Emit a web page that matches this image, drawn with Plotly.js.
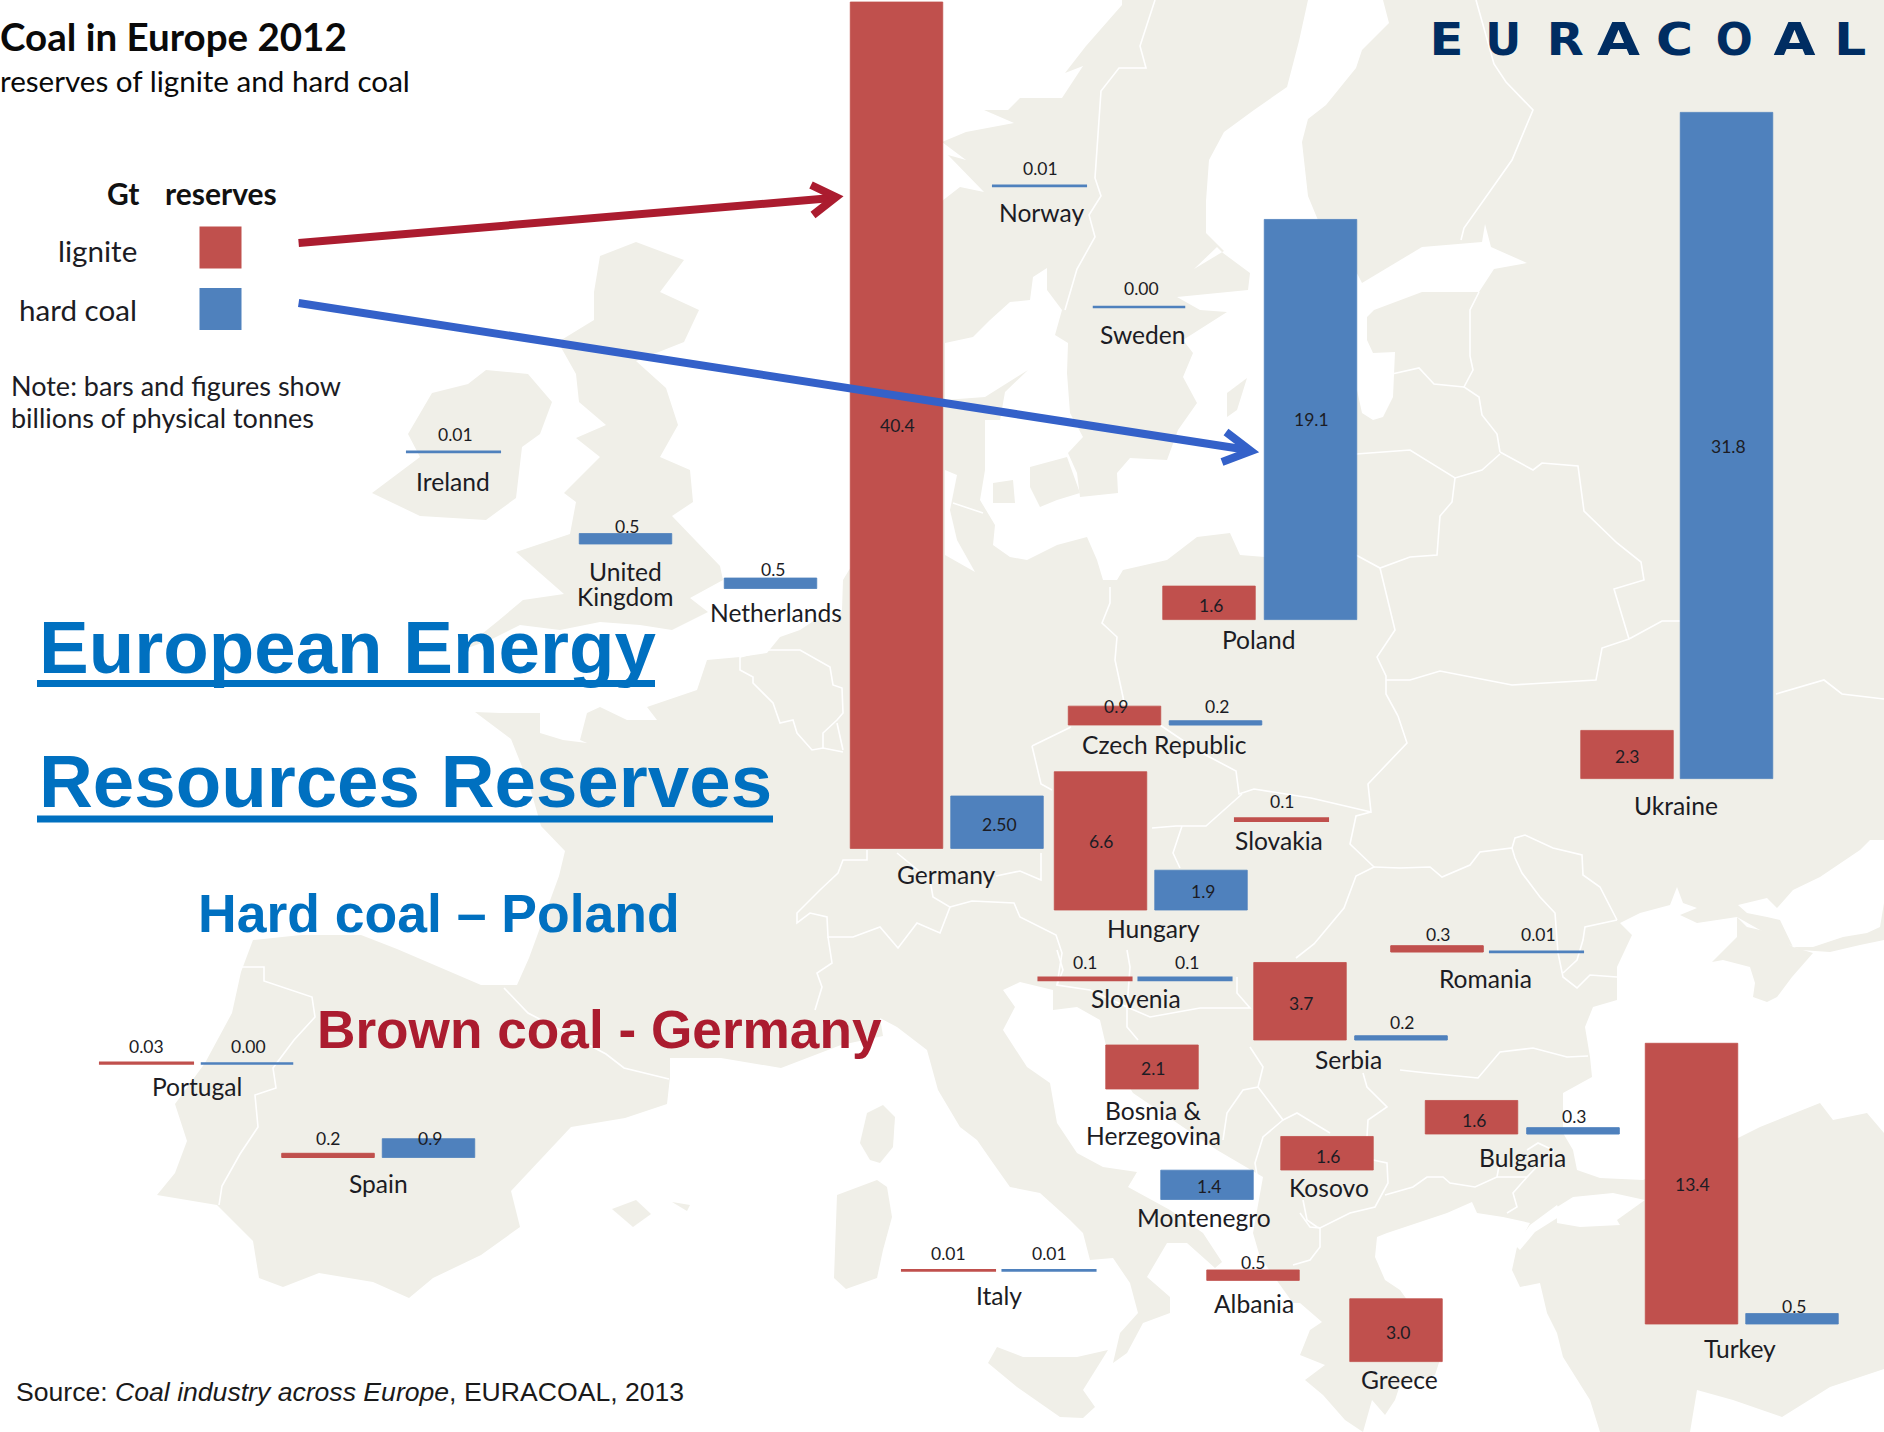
<!DOCTYPE html>
<html><head><meta charset="utf-8">
<script src="https://cdn.plot.ly/plotly-3.0.1.min.js"></script>
<style>html,body{margin:0;padding:0;background:#fff}#c{width:1884px;height:1432px}</style>
</head><body><div id="c"></div>
<script>
// ---------- DATA (Gt of reserves, 2012) ----------
const countries = ["Norway","Sweden","Ireland","United<br>Kingdom","Netherlands","Germany","Poland","Czech Republic","Ukraine","Hungary","Slovakia","Romania","Slovenia","Serbia","Bosnia &<br>Herzegovina","Bulgaria","Kosovo","Montenegro","Albania","Greece","Turkey","Italy","Portugal","Spain"];
const ligniteValues  = [null,null,null,null,null,40.4,1.6,0.9,2.3,6.6,0.1,0.3,0.1,3.7,2.1,1.6,1.6,null,0.5,3.0,13.4,0.01,0.03,0.2];
const hardCoalValues = [0.01,0.00,0.01,0.5,0.5,2.50,19.1,0.2,31.8,1.9,null,0.01,0.1,0.2,null,0.3,null,1.4,null,null,0.5,0.01,0.00,0.9];
const ligniteLabels  = ["","","","","","40.4","1.6","0.9","2.3","6.6","0.1","0.3","0.1","3.7","2.1","1.6","1.6","","0.5","3.0","13.4","0.01","0.03","0.2"];
const hardCoalLabels = ["0.01","0.00","0.01","0.5","0.5","2.50","19.1","0.2","31.8","1.9","","0.01","0.1","0.2","","0.3","","1.4","","","0.5","0.01","0.00","0.9"];

// ---------- PLACEMENT ON THE MAP (page pixels) ----------
const W=1884,H=1432,PXPERGT=20.95;
const gt=py=>(H-py)/PXPERGT;
const baseY =[186,307,452,544,588.5,848.4,619.6,725,778.6,910,820.6,952,980,1040,1089,1134,1170,1199.5,1280.4,1361.6,1324,1270.5,1063.5,1157.5];
const ligX  =[0,0,0,0,0,896.5,1209,1114.5,1627,1100.5,1281.5,1437,1085,1300,1152,1471.5,1327,0,1253,1396,1691.5,948.5,146.5,328];
const hardX =[1039.5,1139,453.5,625.5,770.5,997,1310.5,1215.5,1726.5,1201,0,1536.5,1185,1401,0,1573,0,1207,0,0,1792,1049,247,428.5];
const ligValXY=[null,null,null,null,null,[897,425],[1210.5,605],[1115.5,706],[1627,756],[1101,841.5],[1281.5,801],[1437.5,934],[1085,962],[1301,1003.5],[1153,1068],[1473.5,1120],[1327.5,1156],null,[1253,1262],[1398,1332],[1692,1184],[948,1253],[146,1046],[328,1138]];
const hardValXY=[[1040.5,168],[1141,288],[455,434],[627,526],[773,569],[999,824.5],[1311,419.5],[1217,706],[1728,446],[1203,891],null,[1538,934],[1186.5,962],[1402,1022],null,[1574,1116],null,[1209,1186],null,null,[1794,1306],[1049.5,1253],[248,1046],[430,1138]];
const nameXY=[[1041,212.5],[1143,334.5],[453,481],[625,584],[776,612],[946,874],[1258.5,639.5],[1164,744],[1675.5,805],[1153,928.5],[1278.5,840.5],[1485.5,978],[1135.5,998],[1348,1059.5],[1153,1123],[1522,1157],[1329,1187],[1204,1217.5],[1254,1303],[1399,1379.5],[1740,1348.5],[998.5,1295],[196.5,1086],[378.5,1183]];
const LINEGAP=25;

// ---------- MAP OUTLINES (page pixels) ----------
const LAND=[[1884,0],[1122,0],[1122,5],[1086,46],[1065,73],[1083,66],[1062,98],[1020,98],[1008,110],[984,110],[1014,123],[966,132],[942,142],[966,160],[948,155],[984,192],[960,187],[942,201],[900,230],[900,500],[849,570],[843,580],[842,610],[835,622],[815,620],[800,630],[780,637],[767,653],[740,657],[707,660],[697,690],[647,707],[657,720],[627,720],[600,707],[587,713],[580,740],[587,743],[563,740],[540,733],[540,713],[500,713],[475,712],[511,739],[529,784],[541,826],[565,851],[559,876],[544,917],[529,958],[517,985],[481,985],[439,967],[397,949],[361,935],[301,935],[253,940],[241,972],[232,1013],[205,1063],[175,1104],[187,1141],[175,1173],[157,1195],[217,1205],[253,1241],[259,1278],[283,1287],[319,1273],[373,1282],[409,1298],[433,1278],[481,1255],[520,1227],[511,1191],[541,1159],[571,1127],[625,1118],[667,1104],[670,1077],[670,1058],[721,1058],[781,1068],[841,1045],[883,1036],[880,1018],[897,1027],[927,1050],[938,1090],[960,1127],[977,1140],[993,1163],[1010,1187],[1040,1193],[1070,1220],[1083,1233],[1090,1260],[1113,1258],[1130,1283],[1138,1313],[1120,1333],[1113,1363],[1127,1353],[1143,1323],[1170,1313],[1170,1297],[1147,1277],[1167,1243],[1187,1243],[1215,1268],[1222,1262],[1203,1233],[1170,1210],[1128,1187],[1137,1172],[1103,1167],[1077,1153],[1057,1123],[1050,1083],[1027,1067],[1003,1030],[1015,1007],[1003,990],[1020,982],[1053,990],[1053,1010],[1077,1007],[1100,1020],[1107,1050],[1133,1093],[1183,1127],[1217,1150],[1263,1177],[1253,1233],[1260,1257],[1293,1303],[1300,1303],[1322,1322],[1310,1330],[1300,1355],[1325,1365],[1305,1380],[1323,1395],[1345,1420],[1363,1432],[1372,1400],[1385,1415],[1395,1400],[1400,1385],[1435,1375],[1443,1350],[1400,1290],[1385,1280],[1375,1257],[1377,1237],[1387,1233],[1417,1223],[1447,1213],[1472,1202],[1477,1213],[1503,1217],[1530,1223],[1517,1247],[1512,1270],[1520,1287],[1540,1283],[1547,1313],[1557,1333],[1563,1357],[1590,1400],[1600,1432],[1690,1432],[1697,1390],[1733,1400],[1782,1417],[1830,1387],[1884,1369]];
const SEAS=[
 // Gulf of Bothnia, Baltic and Kattegat
 [[1308,0],[1299,41],[1287,87],[1254,110],[1224,132],[1209,160],[1206,201],[1206,233],[1224,251],[1194,269],[1217,247],[1223,253],[1250,273],[1248,290],[1177,297],[1200,310],[1227,312],[1183,340],[1193,353],[1183,377],[1197,403],[1178,430],[1167,460],[1130,458],[1117,473],[1118,493],[1080,497],[1077,473],[1068,453],[1083,437],[1070,413],[1067,373],[1068,343],[1055,335],[1062,310],[1047,290],[1047,268],[1033,277],[1030,300],[1010,302],[990,320],[973,337],[945,343],[945,400],[985,397],[1028,370],[1005,392],[1000,420],[985,420],[985,470],[980,500],[995,525],[993,545],[1010,557],[1027,560],[1057,545],[1087,537],[1097,560],[1103,580],[1117,580],[1123,570],[1167,560],[1197,537],[1230,533],[1240,555],[1265,557],[1310,557],[1340,400],[1357,390],[1362,413],[1373,420],[1383,417],[1393,397],[1395,352],[1373,353],[1367,340],[1367,317],[1374,310],[1422,292],[1479,292],[1494,269],[1527,263],[1491,247],[1485,224],[1482,242],[1422,247],[1362,283],[1345,250],[1320,225],[1308,196],[1302,142],[1308,119],[1326,105],[1356,68],[1362,50],[1389,23],[1383,0]],
 // Wadden coast beside the tall bar
 [[945,470],[957,475],[950,510],[957,540],[975,572],[945,555]],
 // Black Sea
 [[1620,923],[1640,913],[1670,905],[1677,887],[1683,903],[1697,908],[1680,915],[1697,923],[1737,917],[1760,930],[1800,950],[1830,952],[1860,945],[1884,940],[1884,1133],[1867,1113],[1833,1120],[1820,1103],[1760,1127],[1738,1138],[1643,1180],[1600,1178],[1577,1170],[1573,1150],[1563,1133],[1563,1093],[1592,1077],[1590,1057],[1585,1027],[1593,1007],[1617,1000],[1617,967],[1632,935]],
 // Azov
 [[1738,905],[1767,898],[1777,908],[1793,890],[1820,877],[1860,850],[1870,840],[1884,840],[1884,903],[1880,927],[1867,933],[1843,937],[1813,947],[1793,947],[1780,920],[1767,917],[1747,913]],
 // Marmara and Dardanelles
 [[1557,1207],[1573,1197],[1613,1193],[1645,1200],[1617,1220],[1620,1225],[1580,1227],[1557,1223]],
 [[1515,1245],[1530,1225],[1557,1205],[1562,1215],[1535,1232],[1520,1250]]
];
const ISLANDS=[
 [[636,242],[684,260],[660,292],[699,310],[684,342],[636,361],[666,388],[678,425],[660,457],[690,470],[693,502],[672,516],[720,566],[723,580],[690,598],[708,612],[672,630],[640,625],[600,622],[560,630],[520,625],[490,640],[462,650],[498,621],[523,600],[564,594],[516,552],[570,534],[576,502],[564,493],[600,457],[576,438],[606,425],[579,402],[576,374],[558,342],[594,320],[594,292],[600,256]],
 [[486,370],[528,374],[552,402],[540,434],[522,447],[516,498],[486,520],[420,516],[372,493],[408,466],[420,457],[408,434],[432,393],[468,384]],
 [[1227,393],[1247,378],[1237,410],[1227,417]],
 [[1030,467],[1067,457],[1080,493],[1057,500],[1040,507],[1030,487]],
 [[993,483],[1013,480],[1015,503],[993,503]],
 [[1712,962],[1723,960],[1750,967],[1755,983],[1753,997],[1767,1002],[1777,997],[1792,977],[1813,953],[1793,947],[1773,933],[1747,927],[1737,917],[1737,937]],
 [[867,1113],[883,1105],[895,1117],[893,1147],[880,1163],[870,1160],[860,1143]],
 [[837,1195],[877,1180],[887,1187],[892,1217],[883,1250],[877,1278],[846,1289],[834,1278]],
 [[988,1363],[997,1347],[1023,1357],[1077,1357],[1108,1350],[1083,1390],[1095,1407],[1083,1418],[1060,1417],[1017,1387]],
 [[612,1209],[636,1200],[651,1214],[633,1227]],
 [[672,1202],[690,1205],[687,1211]]
];
const BORDERS=[
 [[504,988],[528,1013],[606,1054],[624,1068],[669,1079]],
 [[240,967],[264,967],[264,981],[312,997],[315,1017],[294,1040],[273,1068],[276,1088],[255,1095],[258,1127],[240,1154],[222,1186],[219,1205]],
 [[740,657],[740,670],[753,677],[753,683],[773,703],[780,723],[793,720],[797,733],[812,750],[823,748],[843,752]],
 [[740,657],[767,650],[800,650],[830,667],[833,685],[842,688],[843,713],[837,720],[823,733],[823,748]],
 [[837,723],[843,750]],
 [[867,850],[867,860],[843,860],[838,873],[820,890],[797,913],[797,923],[810,913],[827,917],[828,937],[853,937],[880,927],[898,948],[917,923],[940,933],[950,907],[933,897],[930,880],[897,853]],
 [[828,937],[832,963],[817,973],[822,987],[815,1010]],
 [[950,907],[972,901],[1014,903],[1020,917],[1056,935],[1062,953],[1057,985]],
 [[996,876],[1020,871],[1041,880],[1041,853]],
 [[1110,587],[1110,603],[1102,623],[1117,637],[1115,660],[1123,697],[1127,720]],
 [[953,503],[983,513]],
 [[1032,746],[1071,727]],[[1032,746],[1041,784],[1052,790]],
 [[1398,716],[1407,743],[1368,784],[1371,812],[1311,798],[1254,789],[1239,794],[1236,771],[1200,752],[1160,725]],
 [[1371,812],[1356,816],[1350,844],[1374,867],[1356,876],[1344,908],[1314,944],[1296,958]],
 [[1374,867],[1400,868],[1430,867],[1442,877],[1470,865],[1480,852],[1512,848],[1515,858],[1522,873],[1540,897],[1555,913],[1558,953],[1563,977],[1577,988],[1590,975],[1617,977]],
 [[1512,848],[1515,838],[1525,835],[1553,848],[1582,855],[1583,875],[1600,887],[1617,920]],[[1617,920],[1585,927],[1583,940],[1577,960],[1563,973]],
 [[1242,794],[1206,826],[1176,826],[1152,828]],[[1182,826],[1173,853],[1180,868]],
 [[1400,1070],[1427,1073],[1478,1078],[1500,1052],[1533,1048],[1567,1057],[1588,1056]],
 [[1363,1073],[1367,1087],[1387,1107],[1368,1120],[1367,1137]],
 [[1373,1160],[1387,1163],[1388,1183],[1375,1207],[1350,1213],[1320,1228],[1310,1227],[1300,1213]],
 [[1385,1195],[1413,1187],[1427,1177],[1443,1177],[1450,1183],[1475,1187],[1497,1177],[1500,1160]],
 [[1497,1177],[1527,1177],[1513,1193],[1517,1207],[1507,1213]],
 [[1527,1150],[1538,1143],[1553,1150],[1527,1177]],
 [[1320,1228],[1320,1247],[1310,1260],[1293,1265]],
 [[1127,1007],[1127,1027],[1138,1040]],
 [[1237,977],[1237,993],[1250,1008],[1200,1008],[1150,1017],[1127,1007]],
 [[1057,950],[1063,970],[1057,985],[1090,990],[1127,1007],[1130,967],[1127,950]],
 [[1250,1047],[1263,1067],[1258,1087],[1243,1090],[1227,1113],[1223,1140]],
 [[1258,1087],[1283,1120],[1263,1137],[1255,1163],[1257,1175]],
 [[1283,1120],[1297,1113],[1330,1133]],
 [[1303,1200],[1307,1220],[1317,1227],[1320,1228]],
 [[1392,374],[1419,368],[1434,384],[1464,387]],
 [[1479,292],[1470,310],[1470,356],[1473,370],[1464,387],[1479,397],[1482,415],[1497,434],[1500,452]],
 [[1356,454],[1410,450],[1455,478],[1482,470],[1500,454]],
 [[1455,478],[1452,502],[1440,516],[1437,555],[1410,557],[1380,568],[1356,555]],
 [[1500,452],[1533,470],[1542,463],[1578,466],[1584,511],[1617,543],[1641,562],[1644,580],[1614,589],[1629,639],[1662,621],[1680,621]],
 [[1629,639],[1602,648],[1596,680],[1512,685],[1440,671],[1410,680],[1386,680]],
 [[1380,568],[1395,630],[1377,657],[1386,676],[1386,694],[1398,716]],
 [[1476,0],[1494,64],[1506,82],[1533,110],[1512,160],[1464,228],[1461,240]],
 [[1155,0],[1140,46],[1146,68],[1119,68],[1101,91],[1095,178],[1101,196],[1089,215],[1095,237],[1077,269],[1065,310]],
 [[1776,694],[1824,680],[1842,694],[1884,699]]
];

// ---------- COLOURS AND FONTS ----------
const RED="#c0504d",BLUE="#4f81bd",LANDC="#f0efe8",INK="#1c1c24";
const BODY="Lato, sans-serif",ARIAL="'Liberation Sans', Arial, sans-serif",LOGO="'DejaVu Sans', sans-serif";

const path=(pts,close)=>"M"+pts.map(p=>p[0]+","+gt(p[1])).join("L")+(close?"Z":"");
const shapes=[];
shapes.push({type:"path",xref:"x",yref:"y",layer:"below",path:path(LAND,true),fillcolor:LANDC,line:{width:0}});
SEAS.forEach(p=>shapes.push({type:"path",xref:"x",yref:"y",layer:"below",path:path(p,true),fillcolor:"#ffffff",line:{width:0}}));
ISLANDS.forEach(p=>shapes.push({type:"path",xref:"x",yref:"y",layer:"below",path:path(p,true),fillcolor:LANDC,line:{width:0}}));
BORDERS.forEach(p=>shapes.push({type:"path",xref:"x",yref:"y",layer:"below",path:path(p,false),line:{color:"#ffffff",width:1.6}}));
const rect=(x0,y0,x1,y1,c)=>({type:"rect",xref:"x",yref:"y",layer:"above",x0,x1,y0:gt(y0),y1:gt(y1),fillcolor:c,line:{width:0}});
shapes.push(rect(199.5,226.5,241.5,268.5,RED),rect(199.5,288,241.5,330,BLUE));
shapes.push(rect(37,680,655,687,"#0070c0"),rect(37,815.5,773,822.5,"#0070c0"));
const arrow=(pts,c)=>({type:"path",xref:"x",yref:"y",layer:"above",path:path(pts,false),line:{color:c,width:8}});
shapes.push(arrow([[298.6,243],[832,198]],"#ab1c2f"),arrow([[811,185],[836,197],[813,215]],"#ab1c2f"));
shapes.push(arrow([[298.6,303],[1248,450]],"#3461c9"),arrow([[1226,432],[1251,451],[1222,462]],"#3461c9"));

const ann=[];
const T=(px,py,text,size,o={})=>ann.push(Object.assign({xref:"x",yref:"y",x:px,y:gt(py),text,showarrow:false,xanchor:"center",yanchor:"middle",font:{family:BODY,size,color:INK}},o));
const F=(size,color,family)=>({family:family||BODY,size,color:color||INK});
countries.forEach((c,i)=>{
  const lines=c.split("<br>");
  lines.forEach((ln,k)=>T(nameXY[i][0],nameXY[i][1]+(k-(lines.length-1)/2)*LINEGAP,ln,24.6));
  if(ligValXY[i]) T(ligValXY[i][0],ligValXY[i][1],ligniteLabels[i],17.5);
  if(hardValXY[i]) T(hardValXY[i][0],hardValXY[i][1],hardCoalLabels[i],17.5);
});
T(0,35.5,"<b>Coal in Europe 2012</b>",38.5,{xanchor:"left",xshift:-2,font:F(38.5,"#0a0a0a")});
T(0,80,"reserves of lignite and hard coal",29.6,{xanchor:"left",xshift:-2,font:F(29.6,"#0a0a0a")});
T(105,192.5,"<b>Gt</b>",30,{xanchor:"left",font:F(30,"#111")});
T(163,192.5,"<b>reserves</b>",30,{xanchor:"left",font:F(30,"#111")});
T(139,250,"lignite",29.6,{xanchor:"right"});
T(139,309,"hard coal",29.6,{xanchor:"right"});
T(9,385,"Note: bars and figures show",27,{xanchor:"left"});
T(9,417,"billions of physical tonnes",27,{xanchor:"left"});
T(37,647,"<b>European Energy</b>",74.5,{xanchor:"left",font:F(74.5,"#0070c0",ARIAL)});
T(37,781,"<b>Resources Reserves</b>",74.5,{xanchor:"left",font:F(74.5,"#0070c0",ARIAL)});
T(196,913,"<b>Hard coal – Poland</b>",53.5,{xanchor:"left",font:F(53.5,"#0070c0",ARIAL)});
T(315,1029,"<b>Brown coal - Germany</b>",53.2,{xanchor:"left",font:F(53.2,"#ab1c2f",ARIAL)});
T(14,1392,"Source: <i>Coal industry across Europe</i>, EURACOAL, 2013",26.6,{xanchor:"left",font:F(26.6,"#1a1a1a",ARIAL)});
const logoLetters=["E","U","R","A","C","O","A","L"],logoX=[1446,1503,1565.5,1618.5,1674.5,1733.5,1794,1850],logoWidth=[34,36,37,43,37,37,42,32];
logoLetters.forEach((l,i)=>T(logoX[i],39.5,"<b>"+l+"</b>",45,{font:F(45,"#002d62",LOGO)}));

const thin=v=>v==null?0:(v<=0.1?2.6:(v<=0.3?1:0.8));
const keep=vals=>vals.map((v,i)=>v==null?null:i).filter(i=>i!==null);
const lig=keep(ligniteValues),hrd=keep(hardCoalValues);
const bar=(idx,vals,xs,c,name)=>({type:"bar",name,x:idx.map(i=>xs[i]),y:idx.map(i=>vals[i]),base:idx.map(i=>gt(baseY[i])),width:92.5,
  marker:{color:c,line:{color:c,width:idx.map(i=>thin(vals[i]))}},hoverinfo:"skip"});
const traces=[bar(lig,ligniteValues,ligX,RED,"lignite"),bar(hrd,hardCoalValues,hardX,BLUE,"hard coal")];

Plotly.newPlot("c",traces,{
  width:W,height:H,margin:{l:0,r:0,t:0,b:0},paper_bgcolor:"#fff",plot_bgcolor:"rgba(0,0,0,0)",
  showlegend:false,barmode:"overlay",
  xaxis:{range:[0,W],visible:false,fixedrange:true},
  yaxis:{range:[0,H/PXPERGT],visible:false,fixedrange:true},
  shapes,annotations:ann
},{staticPlot:true,displayModeBar:false}).then(()=>{
  // The logotype is very wide: stretch its real-text letters to the measured widths.
  const nodes=[...document.querySelectorAll("#c .annotation-text")];
  const logoNodes=nodes.slice(-logoLetters.length);
  logoNodes.forEach((n,i)=>{n.setAttribute("textLength",logoWidth[i]);n.setAttribute("lengthAdjust","spacingAndGlyphs");});
});
</script></body></html>
